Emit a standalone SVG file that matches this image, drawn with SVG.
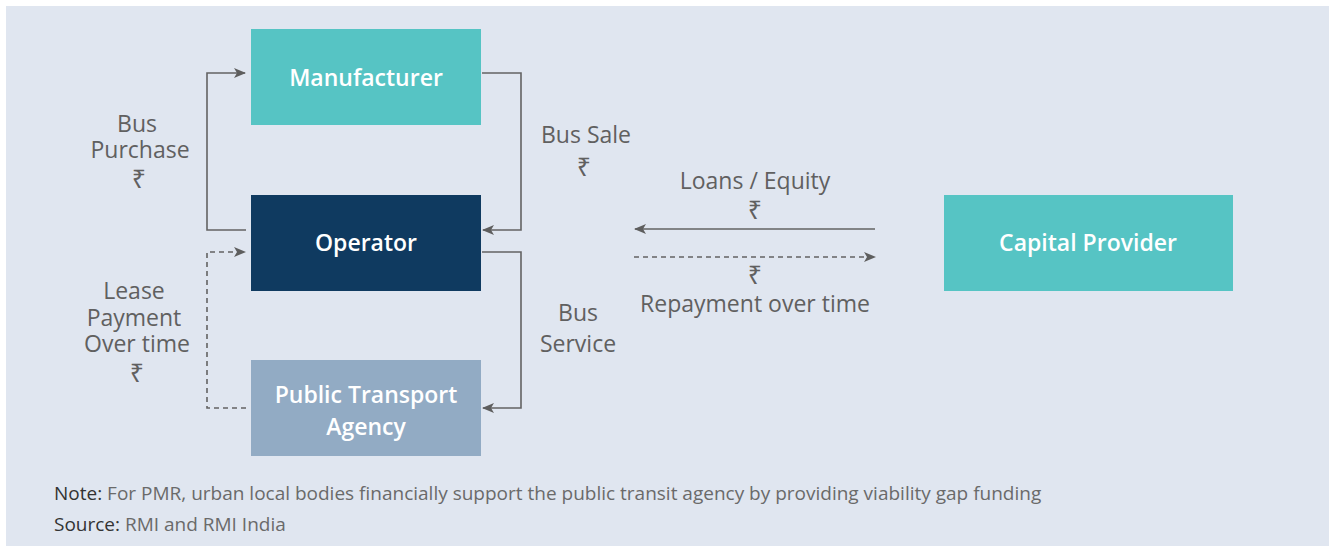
<svg xmlns="http://www.w3.org/2000/svg" width="1329" height="550" viewBox="0 0 1329 550">
  <style>
    .box-label { font-family: "Open Sans", "Noto Sans", "DejaVu Sans", sans-serif; font-size: 23px; font-weight: 600; fill: #ffffff; text-anchor: middle; }
    .flow-label { font-family: "Open Sans", "Noto Sans", "DejaVu Sans", sans-serif; font-size: 23px; fill: #606060; text-anchor: middle; }
    .rupee { font-family: "Noto Sans", "DejaVu Sans", sans-serif; font-size: 25px; }
    .note { font-family: "Open Sans", "Noto Sans", sans-serif; font-size: 19px; fill: #6a6a6a; }
    .note-key { fill: #333333; }
    .line { fill: none; stroke: #636363; stroke-width: 1.6; }
    .dashed { stroke-dasharray: 5 4; }
  </style>
  <defs>
    <marker id="arrow" viewBox="0 0 12 10" refX="11" refY="5" markerWidth="12" markerHeight="10" markerUnits="userSpaceOnUse" orient="auto">
      <path d="M0,0 L12,5 L0,10 L3,5 Z" fill="#5e5e5e"/>
    </marker>
  </defs>

  <!-- panel background -->
  <rect x="6" y="6" width="1323" height="540" fill="#e0e6f0"/>

  <g id="node-manufacturer">
    <rect x="251" y="29" width="230" height="96" fill="#56c4c4"/>
    <text class="box-label" x="366" y="86">Manufacturer</text>
  </g>
  <g id="node-operator">
    <rect x="251" y="195" width="230" height="96" fill="#0f3a60"/>
    <text class="box-label" x="366" y="251">Operator</text>
  </g>
  <g id="node-agency">
    <rect x="251" y="360" width="230" height="96" fill="#92abc4"/>
    <text class="box-label" x="366" y="403">Public Transport<tspan x="366" y="435">Agency</tspan></text>
  </g>
  <g id="node-capital">
    <rect x="944" y="195" width="289" height="96" fill="#56c4c4"/>
    <text class="box-label" x="1088" y="251">Capital Provider</text>
  </g>

  <g id="connectors">
    <!-- operator buys from manufacturer -->
    <path class="line" d="M246,230 H207 V73 H245" marker-end="url(#arrow)"/>
    <!-- manufacturer sells to operator -->
    <path class="line" d="M482,73 H521 V230 H483" marker-end="url(#arrow)"/>
    <!-- operator serves agency -->
    <path class="line" d="M482,252 H521 V408 H483" marker-end="url(#arrow)"/>
    <!-- agency lease payments -->
    <path class="line dashed" d="M246,408 H207 V252 H245" marker-end="url(#arrow)"/>
    <!-- capital flows -->
    <path class="line" d="M875,229 H635" marker-end="url(#arrow)"/>
    <path class="line dashed" d="M634,257 H875" marker-end="url(#arrow)"/>
  </g>

  <g id="labels">
    <text class="flow-label" x="137" y="132">Bus<tspan x="140" y="158">Purchase</tspan><tspan class="rupee" x="139" y="188">₹</tspan></text>

    <text class="flow-label" x="586" y="143">Bus Sale<tspan class="rupee" x="584" y="176">₹</tspan></text>

    <text class="flow-label" x="755" y="189">Loans / Equity<tspan class="rupee" x="755" y="219">₹</tspan></text>
    <text class="flow-label" x="755" y="284"><tspan class="rupee">₹</tspan><tspan x="755" y="312">Repayment over time</tspan></text>

    <text class="flow-label" x="134" y="299">Lease<tspan x="134" y="326">Payment</tspan><tspan x="137" y="352">Over time</tspan><tspan class="rupee" x="137" y="382">₹</tspan></text>

    <text class="flow-label" x="578" y="321">Bus<tspan x="578" y="352">Service</tspan></text>
  </g>

  <g id="footnotes">
    <text class="note" x="54" y="500"><tspan class="note-key">Note:</tspan> For PMR, urban local bodies financially support the public transit agency by providing viability gap funding</text>
    <text class="note" x="54" y="531"><tspan class="note-key">Source:</tspan> RMI and RMI India</text>
  </g>
</svg>
